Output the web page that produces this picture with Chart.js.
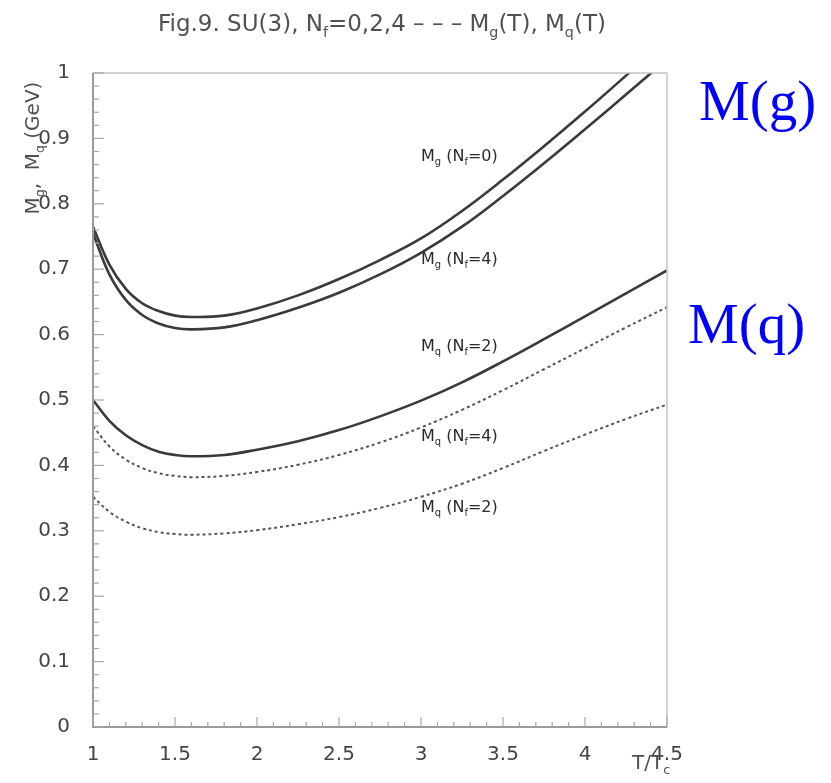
<!DOCTYPE html>
<html><head><meta charset="utf-8">
<script src="https://cdn.jsdelivr.net/npm/chart.js@4/dist/chart.umd.min.js"></script>
<style>html,body{margin:0;padding:0;background:#fff}canvas{display:block}</style>
</head><body>
<canvas id="c" width="831" height="783"></canvas>
<script>
// ---- data ----
const T        = [1.0, 1.1, 1.2, 1.3, 1.4, 1.5, 1.6, 1.8, 2.0, 2.25, 2.5, 2.75, 3.0, 3.25, 3.5, 3.75, 4.0, 4.25, 4.5];
const Mg_Nf0   = [0.765,0.707,0.670,0.648,0.636,0.629,0.627,0.629,0.640,0.660,0.685,0.714,0.747,0.789,0.837,0.888,0.941,0.996,1.052];
const Mg_Nf4   = [0.755,0.692,0.653,0.630,0.617,0.610,0.608,0.611,0.622,0.641,0.664,0.692,0.725,0.765,0.812,0.862,0.914,0.967,1.021];
const Mq_Nf2   = [0.500,0.468,0.446,0.431,0.421,0.416,0.414,0.416,0.424,0.437,0.454,0.475,0.499,0.527,0.559,0.593,0.628,0.663,0.698];
const Mq_Nf4   = [0.460,0.429,0.409,0.396,0.388,0.384,0.382,0.384,0.390,0.401,0.416,0.435,0.458,0.485,0.515,0.547,0.579,0.611,0.642];
const Mq_Nf2b  = [0.352,0.329,0.314,0.304,0.298,0.295,0.294,0.296,0.301,0.310,0.321,0.335,0.352,0.372,0.396,0.422,0.447,0.471,0.493];

const xTickLabels = ['1','1.5','2','2.5','3','3.5','4','4.5'];
const yTickLabels = ['0','0.1','0.2','0.3','0.4','0.5','0.6','0.7','0.8','0.9','1'];

// curve labels
const curveLabelMain = ['M','M','M','M','M'];
const curveLabelSub  = ['g','g','q','q','q'];
const curveLabelNf   = ['0','4','2','4','2'];
const curveLabelT    = [3.0, 3.0, 3.0, 3.0, 3.0];
const curveLabelM    = [0.875, 0.717, 0.584, 0.446, 0.338];

const xMin = 1, xMax = 4.5, xStep = 0.5, xMinorStep = 0.1;
const yMin = 0, yMax = 1, yStep = 0.1, yMinorStep = 0.02;

const pts = arr => T.map((t, i) => ({x: t, y: arr[i]}));
const FAM = '"DejaVu Sans", Verdana, sans-serif';

function rich(ctx, parts, x, y, size, align, color, weight) {
  ctx.fillStyle = color;
  const w = weight || 'normal';
  const ws = parts.map(p => { ctx.font = w + ' ' + (p[1] ? size*0.62 : size) + 'px ' + FAM; return ctx.measureText(p[0]).width; });
  const total = ws.reduce((a, b) => a + b, 0);
  let cx = align === 'center' ? x - total/2 : (align === 'right' ? x - total : x);
  ctx.textAlign = 'left'; ctx.textBaseline = 'alphabetic';
  parts.forEach((p, i) => {
    ctx.font = w + ' ' + (p[1] ? size*0.62 : size) + 'px ' + FAM;
    ctx.fillText(p[0], cx, p[1] ? y + size*0.25 : y);
    cx += ws[i];
  });
}

const decor = {
  id: 'decor',
  beforeDraw(chart) {
    const ctx = chart.ctx;
    ctx.save(); ctx.fillStyle = '#fff'; ctx.fillRect(0, 0, chart.width, chart.height); ctx.restore();
  },
  afterDraw(chart) {
    const {ctx, chartArea: a, scales: {x, y}} = chart;
    ctx.save();
    ctx.strokeStyle = '#c4c4c4'; ctx.lineWidth = 1.5;
    ctx.beginPath(); ctx.moveTo(a.left, a.top); ctx.lineTo(a.right, a.top); ctx.lineTo(a.right, a.bottom); ctx.stroke();
    ctx.strokeStyle = '#9a9a9a'; ctx.lineWidth = 2;
    ctx.beginPath(); ctx.moveTo(a.left, a.top); ctx.lineTo(a.left, a.bottom); ctx.lineTo(a.right, a.bottom); ctx.stroke();
    ctx.strokeStyle = '#a8a8a8'; ctx.lineWidth = 1.2;
    const ny = Math.round((yMax - yMin) / yMinorStep);
    for (let i = 0; i <= ny; i++) {
      const py = y.getPixelForValue(yMin + i * yMinorStep);
      const len = (i % Math.round(yStep / yMinorStep) === 0) ? 11 : 6;
      ctx.beginPath(); ctx.moveTo(a.left, py); ctx.lineTo(a.left + len, py); ctx.stroke();
    }
    const nx = Math.round((xMax - xMin) / xMinorStep);
    for (let i = 0; i <= nx; i++) {
      const px = x.getPixelForValue(xMin + i * xMinorStep);
      const len = (i % Math.round(xStep / xMinorStep) === 0) ? 10 : 5;
      ctx.beginPath(); ctx.moveTo(px, a.bottom); ctx.lineTo(px, a.bottom - len); ctx.stroke();
    }
    // title
    rich(ctx, [['Fig.9. SU(3), N',0],['f',1],['=0,2,4 \u2013 \u2013 \u2013 M',0],['g',1],['(T), M',0],['q',1],['(T)',0]], 158, 31, 23, 'left', '#505050');
    // y axis title (rotated)
    ctx.save();
    ctx.translate(39, 148); ctx.rotate(-Math.PI/2);
    rich(ctx, [['M',0],['g',1],[',  M',0],['q',1],[' (GeV)',0]], 0, 0, 20, 'center', '#505050');
    ctx.restore();
    // x axis title
    rich(ctx, [['T/T',0],['c',1]], a.right + 3, 769, 20, 'right', '#505050');
    // curve labels
    for (let i = 0; i < curveLabelT.length; i++) {
      const px = x.getPixelForValue(curveLabelT[i]);
      const py = y.getPixelForValue(curveLabelM[i]);
      rich(ctx, [[curveLabelMain[i],0],[curveLabelSub[i],1],[' (N',0],['f',1],['=' + curveLabelNf[i] + ')',0]], px, py + 6, 16, 'left', '#2a2a2a');
    }
    // blue annotations
    ctx.fillStyle = '#0000ff';
    ctx.font = '57px "Liberation Serif", "Times New Roman", serif';
    ctx.textAlign = 'left'; ctx.textBaseline = 'alphabetic';
    ctx.fillText('M(g)', 699, 120);
    ctx.fillText('M(q)', 688, 343);
    ctx.restore();
  }
};

const solid = (data, lbl) => ({label: lbl, data: pts(data), borderColor: '#3a3a3a', borderWidth: 2.6, pointRadius: 0, tension: 0.4, fill: false});
const dotted = (data, lbl) => ({label: lbl, data: pts(data), borderColor: '#555', borderWidth: 2, borderDash: [3, 3], pointRadius: 0, tension: 0.4, fill: false});

new Chart(document.getElementById('c'), {
  type: 'line',
  data: {
    datasets: [
      solid(Mg_Nf0, 'Mg Nf=0'),
      solid(Mg_Nf4, 'Mg Nf=4'),
      solid(Mq_Nf2, 'Mq Nf=2'),
      dotted(Mq_Nf4, 'Mq Nf=4'),
      dotted(Mq_Nf2b, 'Mq Nf=2')
    ]
  },
  options: {
    responsive: false,
    animation: false,
    layout: {padding: {left: 0, top: 73, right: 164, bottom: 0}},
    plugins: {legend: {display: false}, title: {display: false}, tooltip: {enabled: false}},
    scales: {
      x: {
        type: 'linear', min: xMin, max: xMax,
        grid: {display: false}, border: {display: false},
        ticks: {stepSize: xStep, autoSkip: false, maxRotation: 0, padding: 8, color: '#454545', font: {family: FAM, size: 20},
                callback: (v, i) => xTickLabels[i]},
        afterFit: s => { s.height = 56; }
      },
      y: {
        min: yMin, max: yMax,
        grid: {display: false}, border: {display: false},
        ticks: {stepSize: yStep, padding: 15, color: '#454545', font: {family: FAM, size: 20},
                callback: (v, i) => yTickLabels[i]},
        afterFit: s => { s.width = 93; }
      }
    }
  },
  plugins: [decor]
});
</script>
</body></html>
